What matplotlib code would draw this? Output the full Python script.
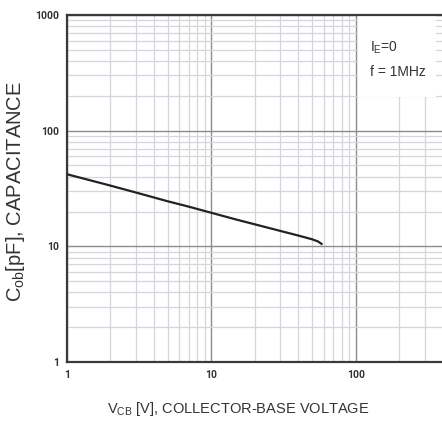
import matplotlib
matplotlib.use("Agg")
import matplotlib.pyplot as plt
from matplotlib.patches import Rectangle
from matplotlib.ticker import FixedLocator, LogLocator, NullFormatter

plt.rcParams['font.family'] = ['Liberation Sans', 'DejaVu Sans']

# Cob vs Vcb curve
vcb = [1, 2, 3, 5, 7, 10, 15, 20, 30, 40, 50, 55, 58]
cob = [42, 33.5, 29.2, 24.5, 22.0, 19.5, 17.0, 15.5, 13.6, 12.4, 11.5, 11.0, 10.5]

x_ticks = [1, 10, 100]
y_ticks = [1, 10, 100, 1000]

fig = plt.figure(figsize=(4.42, 4.30), dpi=100)
ax = fig.add_axes([67 / 442, 68 / 430, 433 / 442, 347 / 430])

ax.plot(vcb, cob, color='#222222', lw=1.6, zorder=4)

ax.set_xscale('log')
ax.set_yscale('log')
ax.set_xlim(1, 1000)
ax.set_ylim(1, 1000)

ax.xaxis.set_major_locator(FixedLocator(x_ticks))
ax.yaxis.set_major_locator(FixedLocator(y_ticks))
ax.xaxis.set_minor_locator(LogLocator(base=10, subs=range(2, 10)))
ax.yaxis.set_minor_locator(LogLocator(base=10, subs=range(2, 10)))
ax.xaxis.set_minor_formatter(NullFormatter())
ax.yaxis.set_minor_formatter(NullFormatter())
ax.set_xticklabels([str(v) for v in x_ticks])
ax.set_yticklabels([str(v) for v in y_ticks])

ax.grid(which='major', color='#8c8c8c', lw=1.0, zorder=1)
ax.grid(which='minor', color='#d3d6dc', lw=0.9, zorder=1)
ax.set_axisbelow(True)

ax.tick_params(which='both', length=0)
ax.tick_params(axis='both', which='major', labelsize=7.5, colors='#333333', pad=6)
for lbl in ax.get_xticklabels() + ax.get_yticklabels():
    lbl.set_fontweight('bold')
    lbl.set_fontfamily('Roboto')

for side in ['left', 'bottom', 'top', 'right']:
    ax.spines[side].set_color('#3a3a3a')
    ax.spines[side].set_linewidth(1.6)

# white note box covering the grid in the upper-right corner
ax.add_patch(Rectangle((103, 195), 260, 805, facecolor='white', edgecolor='none', zorder=2))
ax.text(0.70, 0.905, 'I$_\\mathregular{E}$=0', transform=ax.transAxes,
        fontsize=10, color='#333333', ha='left', va='center', zorder=5)
ax.text(0.70, 0.835, 'f = 1MHz', transform=ax.transAxes,
        fontsize=10, color='#333333', ha='left', va='center', zorder=5)

fig.text(16 / 442, 1 - 191 / 430, 'C$_\\mathregular{ob}$[pF], CAPACITANCE', rotation=90,
         fontsize=14.5, color='#333333', ha='center', va='center')
fig.text(238 / 442, 1 - 409 / 430, 'V$_\\mathregular{CB}$ [V], COLLECTOR-BASE VOLTAGE',
         fontsize=10.5, color='#333333', ha='center', va='center')

fig.savefig('out.png', dpi=100, facecolor='white')
